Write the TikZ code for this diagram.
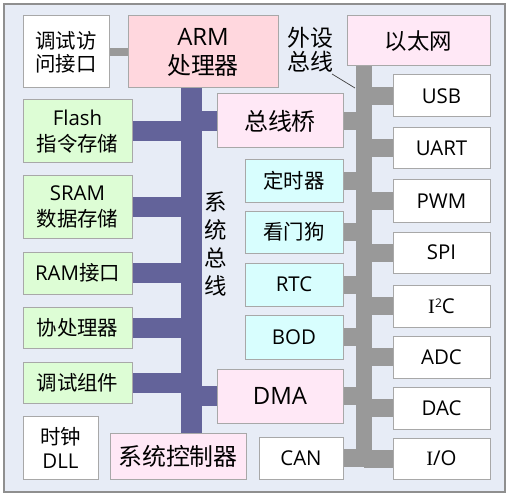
\documentclass[tikz,border=0pt]{standalone}
\usepackage{fontspec}
\setmainfont{Noto Sans CJK SC}
\newfontfamily\latf{Open Sans}
\newfontfamily\serf{Liberation Serif}
\definecolor{bgc}{HTML}{E7ECF6}
\definecolor{framec}{HTML}{8F8F8F}
\definecolor{edgec}{HTML}{A8A8A8}
\definecolor{armc}{HTML}{FFD7DE}
\definecolor{pinkc}{HTML}{FFE8F6}
\definecolor{greenc}{HTML}{DDFDD5}
\definecolor{cyanc}{HTML}{D8FEFE}
\definecolor{sysc}{HTML}{63639A}
\definecolor{perc}{HTML}{999999}
\pgfdeclarelayer{back}
\pgfdeclarelayer{wires}
\pgfsetlayers{back,wires,main}
\newcommand\bx[6]{\node[blk,#6,minimum width={(#4-#2)*1bp},minimum height={(#5-#3)*1bp}] (#1) at ({(#2+#4)/2},{(#3+#5)/2})}
\tikzset{
  blk/.style={draw=edgec,line width=1bp,inner sep=0pt,align=center,text=black},
  nf/.style={font=\fontsize{20.5}{25}\selectfont},
  lf/.style={font=\fontsize{24}{29}\selectfont},
  wht/.style={fill=white},
  armbox/.style={fill=armc},
  pnk/.style={fill=pinkc},
  grn/.style={fill=greenc},
  cyn/.style={fill=cyanc},
  sysline/.style={draw=sysc,line width=20bp},
  perline/.style={draw=perc,line width=18bp},
  busbar/.style={inner sep=0pt,draw=none},
}
\begin{document}
\begin{tikzpicture}[x=1bp,y=-1bp]
\useasboundingbox (0,0) rectangle (508,496);
\begin{pgfonlayer}{back}
\fill[white] (0,0) rectangle (508,496);
\draw[fill=bgc,draw=framec,line width=1.5bp] (4,4) rectangle (505,492);
\end{pgfonlayer}

% blocks
\bx{dbg}{23}{16}{109}{88}{wht,nf,font=\fontsize{20.5}{23}\selectfont} {调试访\\问接口};
\bx{arm}{128}{16}{278}{88}{armbox,lf} {{\latf ARM}\\处理器};
\bx{eth}{347}{16}{490}{66}{pnk,font=\fontsize{22.5}{26}\selectfont} {以太网};
\bx{usb}{393}{75}{490}{117}{wht,nf} {\latf USB};
\bx{uart}{393}{128}{490}{169}{wht,nf} {\latf UART};
\bx{pwm}{393}{180}{490}{222}{wht,nf} {\latf PWM};
\bx{spi}{393}{232}{490}{273}{wht,nf} {\latf SPI};
\bx{iic}{393}{285}{490}{327}{wht,nf} {{\serf I}\raisebox{0.55ex}{\fontsize{12}{12}\selectfont\latf 2}{\latf C}};
\bx{adc}{393}{336}{490}{378}{wht,nf} {\latf ADC};
\bx{dac}{393}{387}{490}{429}{wht,nf} {\latf DAC};
\bx{io}{393}{438}{490}{479}{wht,nf} {{\serf I}{\latf /O}};
\bx{bridge}{217}{94}{343}{148}{pnk,lf} {总线桥};
\bx{timer}{245}{160}{343}{202}{cyn,nf} {定时器};
\bx{wdog}{245}{211}{343}{253}{cyn,nf} {看门狗};
\bx{rtc}{245}{263}{343}{306}{cyn,nf} {\latf RTC};
\bx{bod}{245}{315}{343}{359}{cyn,nf} {\latf BOD};
\bx{dma}{217}{369}{343}{423}{pnk,lf} {\latf DMA};
\bx{can}{259}{437}{343}{479}{wht,nf} {\latf CAN};
\bx{flash}{23}{100}{132}{163}{grn,nf,font=\fontsize{20.5}{26}\selectfont} {{\latf Flash}\\指令存储};
\bx{sram}{23}{176}{132}{238}{grn,nf,font=\fontsize{20.5}{26}\selectfont} {{\latf SRAM}\\数据存储};
\bx{ramif}{23}{252}{132}{294}{grn,nf} {{\latf RAM}接口};
\bx{copro}{23}{307}{132}{348}{grn,nf} {协处理器};
\bx{dbgc}{23}{362}{132}{403}{grn,nf} {调试组件};
\bx{clk}{23}{416}{98}{479}{wht,nf,font=\fontsize{20.5}{24}\selectfont} {时钟\\{\latf DLL}};
\bx{sysctl}{110}{433}{246}{479}{pnk,lf} {系统控制器};

% labels
\node[inner sep=0pt,align=center,font=\fontsize{23}{24}\selectfont] (plabel) at (310.5,50) {外设\\总线};
\node[inner sep=0pt,align=center,font=\fontsize{22.5}{28}\selectfont] (slabel) at (216,244) {系\\统\\总\\线};
\coordinate (leadA) at (332,74);
\coordinate (leadB) at (355,88);

\begin{pgfonlayer}{wires}
% system bus
\node[busbar,fill=sysc,minimum width=21bp,minimum height=345bp] (sbus) at (191.5,260.5) {};
\foreach \n in {flash,sram,ramif,copro,dbgc}
  \draw[sysline] (\n.east) -- (\n.east -| sbus.center);
\foreach \n in {bridge,dma}
  \draw[sysline] (\n.west) -- (\n.west -| sbus.center);
% peripheral bus
\node[busbar,fill=perc,minimum width=16bp,minimum height=401bp] (pbus) at (364,266.5) {};
\foreach \n in {usb,uart,pwm,spi,iic,adc,dac,io}
  \draw[perline] (\n.west) -- (\n.west -| pbus.center);
\foreach \n in {bridge,timer,wdog,rtc,bod,dma,can}
  \draw[perline] (\n.east) -- (\n.east -| pbus.center);
\draw[perc,line width=8bp] (dbg.east) -- (arm.west);
\end{pgfonlayer}
\draw[black!75,line width=0.7bp] (leadA) -- (leadB);
\end{tikzpicture}
\end{document}
